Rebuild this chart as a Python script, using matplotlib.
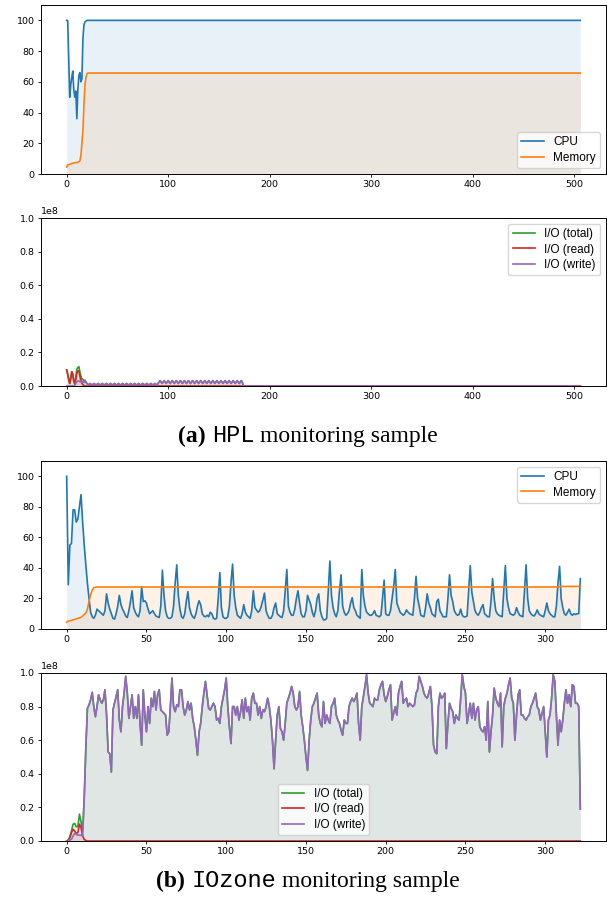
import numpy as np
import matplotlib
matplotlib.use("Agg")
import matplotlib.pyplot as plt
from matplotlib.ticker import MultipleLocator

# ---------------- HPL run: 507 samples ----------------
hpl_cpu = [100, 100, 75, 50, 58, 63, 67, 55, 50, 54, 36, 55, 64, 66, 60, 62,
           88, 97, 99, 99.5, 100] + [100.0] * 486
hpl_mem = [4.5, 6, 6, 6.3, 6.5, 6.8, 7, 7.2, 7.3, 7.4, 7.5, 7.6, 8, 8.5, 12,
           20, 28, 45, 58, 63, 65.3] + [65.7] * 486

# I/O in units of 1e6
hpl_read_head = [9.5, 7, 4, 1.5, 4.5, 8.5, 7, 3, 1, 4, 7.5, 9, 9, 6, 3, 1.5,
                 0.8, 0.3, 0, 0, 0]
hpl_write_head = [0, 0, 0, 0, 0, 0, 0, 0, 0.5, 1.5, 2.5, 3, 3, 2.5, 3, 2, 3,
                  2, 3, 2, 1.5]
hpl_total_head = [9.5, 7, 4, 1.5, 4.5, 8.5, 7, 3, 1.5, 5.5, 10, 11, 11.5, 8.5,
                  6, 4, 4, 3, 3.5, 2.5, 1.5]
hpl_io_tail = ([0.5, 1.0, 1.5, 1.0] * 17 + [0.5]
               + [1.5, 2.3, 3.2, 2.3] * 21 + [0.0] * 333)
hpl_read = hpl_read_head + [0.0] * 486
hpl_write = hpl_write_head + hpl_io_tail
hpl_total = hpl_total_head + hpl_io_tail

# ---------------- IOzone run: 323 samples ----------------
ioz_cpu = [
    100, 29, 55, 56, 78, 78, 70, 72, 80, 88, 70, 55, 42, 30, 20, 11, 8, 7, 9, 13,
    12, 11, 10, 9, 12, 23, 17, 13, 10, 7, 6.5, 10, 15, 22, 16, 13, 11, 8.5, 7.5, 12,
    18, 25, 14, 11, 9, 8, 12, 27.5, 18, 18.5, 17, 13, 10, 11, 12, 10, 8.5, 8, 7.5, 15,
    38.5, 22, 12, 8, 7, 7, 8, 15, 30, 42, 22, 13, 8, 7, 10, 18, 24.5, 14, 10, 8,
    7, 10, 15, 18.5, 16, 10, 8.5, 8, 9, 8, 11, 10, 7, 6.5, 7, 20, 37, 14, 8, 7,
    7, 8, 15, 30, 42.5, 22, 14, 9, 8, 7, 10, 16, 11, 9, 8, 7, 12, 25, 14, 12.5,
    11, 12, 15, 19, 23.5, 12, 9, 7, 7, 9, 14, 17, 10, 9, 8, 7.5, 12, 25, 39, 15,
    11, 9, 9, 13, 20, 25, 17, 10, 8, 8, 12, 22, 19, 16, 11, 8, 12, 20, 23, 12,
    8, 6, 6, 7, 25, 44.5, 22, 14, 10, 8, 12, 25, 35.5, 15, 11, 9, 10, 12, 17, 20.5,
    14, 12, 9, 8, 7, 39, 22, 15, 11, 10, 9, 9, 10, 12, 9, 8.5, 8, 9, 20, 32,
    10, 9, 9, 12, 20, 28, 39, 17, 14, 11, 10, 9, 10, 12.5, 11, 10, 9.5, 9, 20, 34.5,
    20, 15, 9, 8.5, 8, 14, 23, 17, 14, 10, 9, 8, 18, 19.5, 12, 10, 8, 8, 8, 20,
    35.5, 22, 18, 12, 10, 9, 9.5, 13, 9, 8, 8, 8.5, 25, 41.5, 24, 18, 12, 10, 9, 11,
    14, 16, 10, 9, 8, 8, 18, 33, 20, 12, 10, 9, 8.5, 8, 25, 41.5, 20, 14, 10, 9.5,
    9, 10, 14, 11, 9, 8.5, 8, 25, 42, 20, 12, 10, 9, 8.5, 10, 12.5, 10, 9, 8.5, 8,
    12, 17, 12, 10, 9, 8, 8, 15, 30, 41, 20, 14, 10, 9, 11, 13, 10, 9, 10, 9.5,
    10, 10, 33,
]
ioz_mem = [4.4, 5.2, 5.4, 5.6, 6, 6.3, 6.6, 7, 7.3, 7.6, 8.5, 9.5, 10.5, 13, 18,
           22.5, 25.5, 27, 27.4] + [27.5] * 291 + [27.9] * 13

ioz_write = [
    0, 0, 0.5, 1, 3, 4.5, 4, 3.5, 3.5, 3.5, 3, 25, 55, 79, 81, 84, 88.5, 80, 74, 80,
    87, 84, 82, 84, 90, 75, 53, 52, 41, 78, 82, 86, 90, 72, 65, 80, 88, 98, 88, 73,
    80, 87, 73, 80, 73, 87, 70, 57, 90, 75, 65, 80, 70, 85, 80, 89, 78, 87, 90, 78,
    77, 76, 75, 63, 65, 80, 97, 80, 77, 81, 80, 90, 90, 80, 75, 78, 83, 78, 82, 73,
    68, 60, 51, 65, 70, 80, 88, 95, 87, 79, 78, 80, 82, 80, 72, 73, 70, 80, 85, 90,
    97, 80, 68, 58, 80, 80, 75, 80, 72, 77, 84, 73, 85, 77, 80, 72, 85, 88, 82, 82,
    75, 80, 73, 78, 77, 80, 85, 80, 72, 60, 43, 60, 75, 80, 67, 65, 60, 70, 82, 85,
    88, 92, 88, 80, 78, 80, 89, 75, 68, 60, 50, 42, 60, 72, 80, 82, 85, 88, 75, 70,
    68, 83, 70, 75, 72, 70, 80, 82, 85, 75, 72, 70, 66, 63, 72, 70, 70, 80, 83, 85,
    83, 85, 88, 70, 60, 80, 86, 92, 99, 88, 82, 81, 80, 85, 84, 84, 90, 93, 95, 87,
    83, 86, 90, 93, 72, 76, 80, 75, 88, 92, 95, 82, 84, 85, 80, 82, 81, 80, 81, 88,
    90, 98, 95, 92, 88, 86, 85, 88, 92, 80, 57, 53, 52, 80, 88, 85, 86, 88, 55, 70,
    82, 79, 77, 70, 75, 73, 72, 85, 99, 92, 88, 70, 76, 82, 73, 82, 72, 78, 80, 68,
    66, 65, 68, 60, 83, 53, 65, 75, 91, 85, 82, 80, 88, 56, 80, 85, 88, 93, 97, 85,
    82, 60, 75, 87, 90, 75, 75, 73, 72, 74, 75, 80, 82, 85, 88, 80, 78, 72, 76, 80,
    65, 50, 72, 75, 85, 99, 95, 75, 57, 72, 65, 72, 82, 90, 82, 87, 80, 93, 92, 82,
    82, 80, 19,
]
ioz_read = [0, 0.5, 2, 5, 7, 6, 4.5, 5, 10, 8, 3, 1, 0.3] + [0.0] * 310
ioz_total_head = [0, 0.5, 2.5, 6, 10, 10.5, 8.5, 8.5, 16, 11.5, 6, 26, 55.3]
ioz_total = ioz_total_head + ioz_write[13:]

TICK_FS = 6.8
LEG_FS = 8.5
LW = 1.2


def style_axes(ax, xstep, ystep):
    ax.xaxis.set_major_locator(MultipleLocator(xstep))
    ax.yaxis.set_major_locator(MultipleLocator(ystep))
    ax.tick_params(labelsize=TICK_FS, length=2.5, width=0.6, pad=2)
    ax.yaxis.get_offset_text().set_fontsize(TICK_FS)
    for sp in ax.spines.values():
        sp.set_linewidth(0.7)


def add_legend(ax, loc):
    ax.legend(loc=loc, prop={"family": "Liberation Sans", "size": LEG_FS},
              labelspacing=0.3, borderpad=0.35, handlelength=1.9)


def draw_usage(ax, cpu, mem, loc, xstep):
    x = np.arange(len(cpu))
    ax.plot(x, cpu, color="tab:blue", lw=LW, label="CPU")
    ax.fill_between(x, cpu, color="tab:blue", alpha=0.1, lw=0)
    ax.plot(x, mem, color="tab:orange", lw=LW, label="Memory")
    ax.fill_between(x, mem, color="tab:orange", alpha=0.1, lw=0)
    ax.set_ylim(0, 110)
    style_axes(ax, xstep, 20)
    add_legend(ax, loc)


def draw_io(ax, total, read, write, loc, xstep):
    x = np.arange(len(total))
    series = [(total, "tab:green", "I/O (total)"),
              (read, "tab:red", "I/O (read)"),
              (write, "tab:purple", "I/O (write)")]
    for vals, col, lab in series:
        v = np.array(vals) * 1e6
        ax.plot(x, v, color=col, lw=LW, label=lab)
        ax.fill_between(x, v, color=col, alpha=0.1, lw=0)
    ax.set_ylim(0, 1e8)
    style_axes(ax, xstep, 0.2e8)
    add_legend(ax, loc)


def caption(fig, y, parts, size=17, center=308 / 607):
    r = fig.canvas.get_renderer()
    gap = 0.25 * size * fig.dpi / 72
    texts = [fig.text(0, y, s, fontsize=size, va="baseline", **kw) for s, kw in parts]
    widths = [t.get_window_extent(r).width for t in texts]
    total = sum(widths) + gap * (len(texts) - 1)
    x = center * fig.bbox.width - total / 2
    for t, w in zip(texts, widths):
        t.set_x(x / fig.bbox.width)
        x += w + gap


fig = plt.figure(figsize=(6.07, 9.02), dpi=100)
left, width = 41 / 607, 565 / 607
ax1 = fig.add_axes([left, 1 - 174 / 902, width, 169 / 902])
ax2 = fig.add_axes([left, 1 - 386 / 902, width, 168 / 902])
ax3 = fig.add_axes([left, 1 - 629 / 902, width, 168 / 902])
ax4 = fig.add_axes([left, 1 - 841 / 902, width, 168 / 902])

draw_usage(ax1, hpl_cpu, hpl_mem, "lower right", 100)
draw_io(ax2, hpl_total, hpl_read, hpl_write, "upper right", 100)
draw_usage(ax3, ioz_cpu, ioz_mem, "upper right", 50)
draw_io(ax4, ioz_total, ioz_read, ioz_write, "lower center", 50)

caption(fig, 1 - 442 / 902, [("(a)", dict(fontfamily="Liberation Serif", fontweight="bold")),
                             ("HPL", dict(fontfamily="Liberation Mono")),
                             ("monitoring sample", dict(fontfamily="Liberation Serif"))])
caption(fig, 1 - 887 / 902, [("(b)", dict(fontfamily="Liberation Serif", fontweight="bold")),
                             ("IOzone", dict(fontfamily="Liberation Mono")),
                             ("monitoring sample", dict(fontfamily="Liberation Serif"))])

fig.savefig("out.png", dpi=100)
